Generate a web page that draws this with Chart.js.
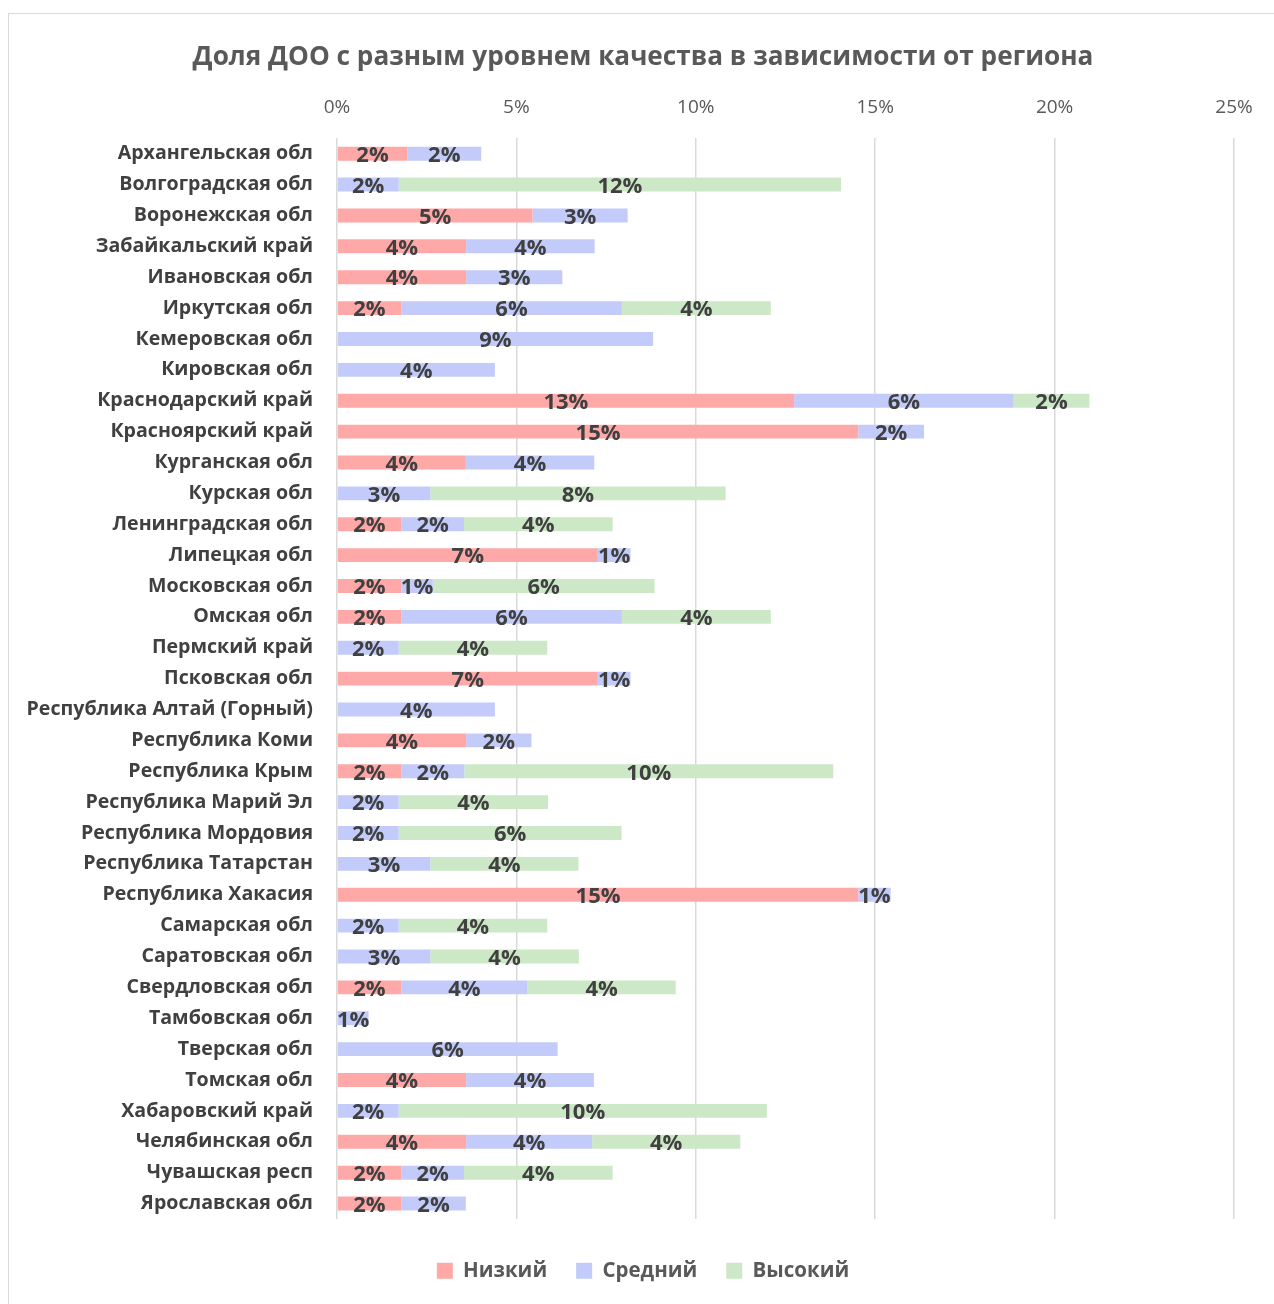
<!DOCTYPE html>
<html>

<head>
    <meta charset="UTF-8">
    <title>Доля ДОО</title>
    <script src="https://cdn.jsdelivr.net/npm/chart.js@4.4.0/dist/chart.umd.min.js"></script>
    <style>
        body { margin: 0; background: #fff; overflow: hidden; }
        #frame { position: absolute; left: 8px; top: 13px; width: 1300px; height: 1320px;
                 border-left: 1px solid #d9d9d9; border-top: 1px solid #d9d9d9; }
        #chart { position: absolute; left: 0; top: 0; }
    </style>
</head>

<body>
    <div id="frame"></div>
    <canvas id="chart" width="1274" height="1304"></canvas>
</body>

<script>
    var regions = ["Архангельская обл", "Волгоградская обл", "Воронежская обл", "Забайкальский край",
        "Ивановская обл", "Иркутская обл", "Кемеровская обл", "Кировская обл", "Краснодарский край",
        "Красноярский край", "Курганская обл", "Курская обл", "Ленинградская обл", "Липецкая обл",
        "Московская обл", "Омская обл", "Пермский край", "Псковская обл", "Республика Алтай (Горный)",
        "Республика Коми", "Республика Крым", "Республика Марий Эл", "Республика Мордовия",
        "Республика Татарстан", "Республика Хакасия", "Самарская обл", "Саратовская обл",
        "Свердловская обл", "Тамбовская обл", "Тверская обл", "Томская обл", "Хабаровский край",
        "Челябинская обл", "Чувашская респ", "Ярославская обл"];

    // доли в процентах
    var low = [1.96, 0, 5.45, 3.6, 3.6, 1.79, 0, 0, 12.74, 14.53, 3.59, 0, 1.79, 7.27, 1.79, 1.79, 0, 7.27,
        0, 3.6, 1.79, 0, 0, 0, 14.53, 0, 0, 1.79, 0, 0, 3.6, 0, 3.6, 1.79, 1.79];
    var mid = [2.06, 1.72, 2.65, 3.58, 2.68, 6.15, 8.81, 4.4, 6.12, 1.83, 3.58, 2.6, 1.75, 0.91, 0.88, 6.15,
        1.72, 0.91, 4.4, 1.82, 1.76, 1.72, 1.72, 2.6, 0.9, 1.72, 2.6, 3.52, 0.88, 6.15, 3.56, 1.72, 3.51,
        1.75, 1.8];
    var high = [0, 12.33, 0, 0, 0, 4.15, 0, 0, 2.11, 0, 0, 8.23, 4.14, 0, 6.18, 4.15, 4.14, 0, 0, 0, 10.28,
        4.16, 6.21, 4.13, 0, 4.14, 4.14, 4.13, 0, 0, 0, 10.26, 4.13, 4.14, 0];

    var axisTicks = [0, 5, 10, 15, 20, 25];

    var FONT = "'Open Sans', sans-serif";

    // подписи значений в центре сегментов
    var barLabels = {
        id: 'barLabels',
        afterDatasetsDraw: function (chart) {
            var ctx = chart.ctx;
            ctx.save();
            ctx.font = 'bold 22px ' + FONT;
            ctx.fillStyle = '#404040';
            ctx.textAlign = 'center';
            ctx.textBaseline = 'middle';
            chart.data.datasets.forEach(function (ds, i) {
                var meta = chart.getDatasetMeta(i);
                meta.data.forEach(function (bar, j) {
                    var v = ds.data[j];
                    if (!v) return;
                    var p = bar.getCenterPoint();
                    ctx.fillText(Math.round(v) + '%', p.x, p.y + 2);
                });
            });
            ctx.restore();
        }
    };

    var chart = new Chart(document.getElementById('chart'), {
        type: 'bar',
        data: {
            labels: regions,
            datasets: [{
                label: 'Низкий',
                data: low,
                backgroundColor: '#ffa8a8'
            }, {
                label: 'Средний',
                data: mid,
                backgroundColor: '#c2cbfa'
            }, {
                label: 'Высокий',
                data: high,
                backgroundColor: '#cce8c6'
            }]
        },
        options: {
            indexAxis: 'y',
            responsive: false,
            animation: false,
            barPercentage: 0.45,
            categoryPercentage: 1,
            layout: { padding: { left: 12, right: 0, top: 0, bottom: 13 } },
            scales: {
                x: {
                    position: 'top',
                    stacked: true,
                    min: 0,
                    max: 26.115,
                    afterBuildTicks: function (scale) {
                        scale.ticks = axisTicks.map(function (v) { return { value: v }; });
                    },
                    afterFit: function (scale) { scale.height = 54.8; },
                    grid: { color: '#d9d9d9', lineWidth: 1.5, drawTicks: false },
                    border: { display: false },
                    ticks: {
                        padding: 19,
                        color: '#595959',
                        font: { family: FONT, size: 19 },
                        callback: function (v) { return v + '%'; }
                    }
                },
                y: {
                    stacked: true,
                    afterFit: function (scale) { scale.width = 325; },
                    grid: { display: false },
                    border: { display: false },
                    ticks: {
                        padding: 16,
                        color: '#404040',
                        font: { family: FONT, size: 19.6, weight: 'bold' }
                    }
                }
            },
            plugins: {
                title: {
                    display: true,
                    text: 'Доля ДОО с разным уровнем качества в зависимости от региона',
                    color: '#595959',
                    font: { family: FONT, size: 26.2, weight: 'bold' },
                    padding: { top: 42, bottom: 10 }
                },
                legend: {
                    position: 'bottom',
                    title: { display: true, text: '', font: { size: 10, lineHeight: 1.25 }, padding: 0 },
                    labels: {
                        padding: 29,
                        boxWidth: 16,
                        boxHeight: 16,
                        color: '#595959',
                        font: { family: FONT, size: 20.5, weight: 'bold' }
                    }
                },
                tooltip: { enabled: false }
            }
        },
        plugins: [barLabels]
    });
</script>

</html>
